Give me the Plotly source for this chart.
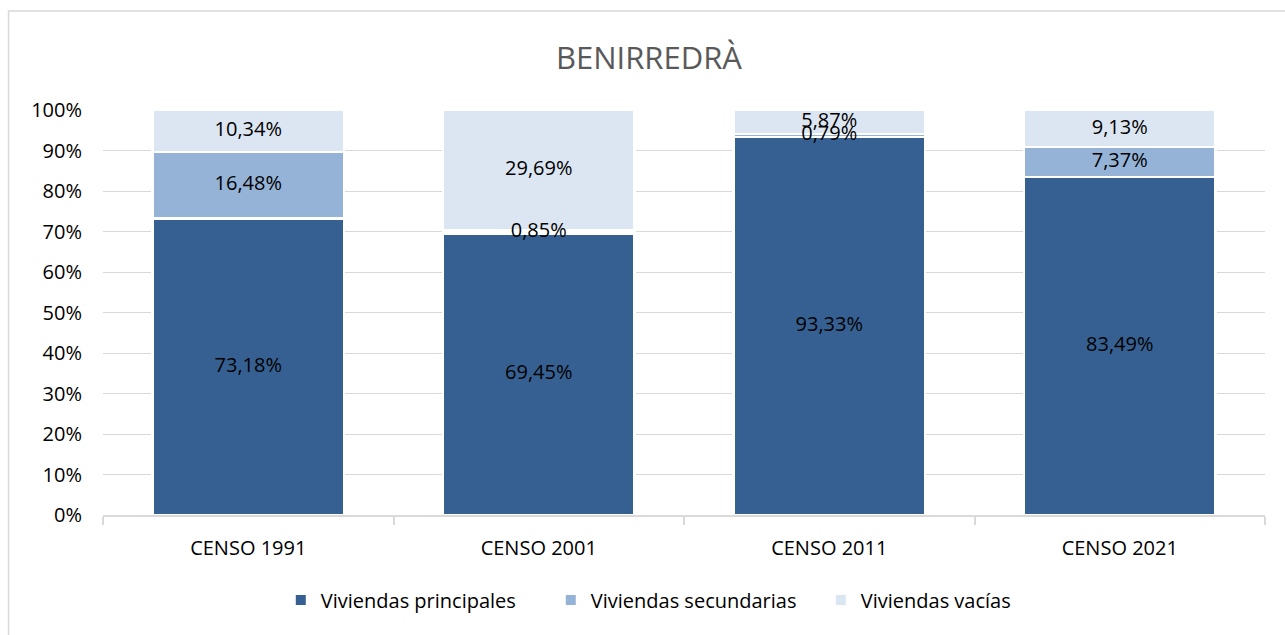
import plotly.graph_objects as go

categories = ["CENSO 1991", "CENSO 2001", "CENSO 2011", "CENSO 2021"]
principales = [73.18, 69.45, 93.33, 83.49]
secundarias = [16.48, 0.85, 0.79, 7.37]
vacias = [10.34, 29.69, 5.87, 9.13]

series = [
    ("Viviendas principales", principales, "#376092"),
    ("Viviendas secundarias", secundarias, "#95B3D7"),
    ("Viviendas vacías", vacias, "#DCE6F2"),
]

FONT = "Open Sans"

fig = go.Figure()
for name, vals, color in series:
    fig.add_trace(go.Bar(
        name=name, x=categories, y=vals,
        marker=dict(color=color, line=dict(color="white", width=2.5)),
        hoverinfo="skip",
    ))

# data labels drawn on top of all bars, at the middle of each stacked segment
base = [0.0] * len(categories)
for name, vals, color in series:
    mids = [b + v / 2 for b, v in zip(base, vals)]
    fig.add_trace(go.Scatter(
        x=categories, y=mids, mode="text",
        text=[f"{v:.2f}%".replace(".", ",") for v in vals],
        textposition="middle center",
        textfont=dict(family=FONT, size=20, color="#000000"),
        showlegend=False, hoverinfo="skip",
    ))
    base = [b + v for b, v in zip(base, vals)]

fig.update_layout(
    barmode="stack",
    bargap=0.34,
    separators=",.",
    width=1285, height=635,
    margin=dict(l=103, r=20, t=110, b=120),
    paper_bgcolor="white", plot_bgcolor="white",
    title=dict(text="BENIRREDRÀ", x=0.505, xanchor="center", y=1 - 58 / 635, yanchor="middle",
               font=dict(family=FONT, size=31, color="#595959")),
    font=dict(family=FONT, size=20, color="#000000"),
    legend=dict(orientation="h", x=0.153, xanchor="left", y=-0.21, yanchor="middle",
                font=dict(family=FONT, size=20, color="#000000"),
                itemsizing="constant", traceorder="normal", itemwidth=30,
                entrywidth=225, entrywidthmode="pixels"),
    showlegend=True,
    shapes=[dict(type="rect", xref="paper", yref="paper",
                 x0=-0.0813, x1=1.2, y0=-0.6, y1=1.2444,
                 line=dict(color="#D9D9D9", width=1.5), fillcolor="rgba(0,0,0,0)", layer="below")],
)

fig.update_yaxes(range=[0, 100], dtick=10, ticksuffix="%", showgrid=True,
                 gridcolor="#D9D9D9", gridwidth=1, zeroline=False, showline=False,
                 tickfont=dict(family=FONT, size=20, color="#000000"), ticks="",
                 ticklabelstandoff=20)
fig.update_xaxes(showline=True, linecolor="#D9D9D9", linewidth=1.5,
                 ticks="outside", tickson="boundaries", ticklen=8, tickcolor="#D9D9D9", tickwidth=1.5,
                 tickfont=dict(family=FONT, size=20, color="#000000"), ticklabelstandoff=14)

fig.write_html("out.html", config={"displayModeBar": False},
               post_script="document.body.style.margin='0';")
